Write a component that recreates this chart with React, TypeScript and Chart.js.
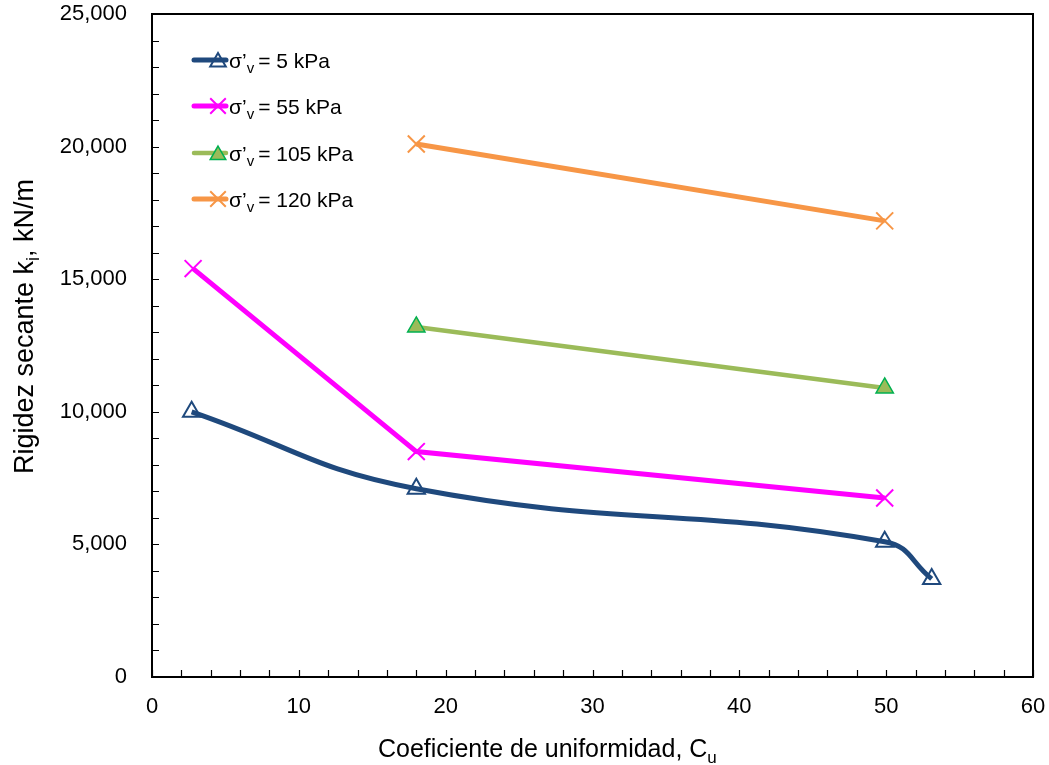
import React, { useEffect, useRef } from "react";
import { Chart, registerables } from "chart.js";

Chart.register(...registerables);

const cu5 = [2.7, 18, 49.9, 53.1];
const k5 = [10000, 7100, 5100, 3700];
const cu55 = [2.8, 18, 49.9];
const k55 = [15400, 8500, 6750];
const cu105 = [18, 49.9];
const k105 = [13200, 10900];
const cu120 = [18, 49.9];
const k120 = [20100, 17200];

const seriesNames = ["5 kPa", "55 kPa", "105 kPa", "120 kPa"];
const xTitle = "Coeficiente de uniformidad, C";
const xTitleSub = "u";
const yTitle = "Rigidez secante k";
const yTitleSub = "i";
const yTitleEnd = ", kN/m";

const FONT = "'Liberation Sans', Arial, sans-serif";

const BLUE = "#1F497D";
const MAGENTA = "#FF00FF";
const GREEN_LINE = "#9BBB59";
const GREEN_EDGE = "#00B050";
const ORANGE = "#F79646";

function pts(xs: number[], ys: number[]) {
  return xs.map((x, i) => ({ x, y: ys[i] }));
}

function drawMarker(ctx: CanvasRenderingContext2D, style: string, x: number, y: number, r: number, fill: string, stroke: string, lw: number) {
  ctx.save();
  ctx.lineWidth = lw;
  ctx.strokeStyle = stroke;
  ctx.fillStyle = fill;
  ctx.beginPath();
  if (style === "triangle") {
    for (let i = 0; i < 3; i++) {
      const a = (i * 2 * Math.PI) / 3;
      const px = x + Math.sin(a) * r;
      const py = y - Math.cos(a) * r;
      if (i === 0) ctx.moveTo(px, py);
      else ctx.lineTo(px, py);
    }
    ctx.closePath();
    ctx.fill();
    ctx.stroke();
  } else {
    const d = r * Math.SQRT1_2;
    ctx.moveTo(x - d, y - d);
    ctx.lineTo(x + d, y + d);
    ctx.moveTo(x + d, y - d);
    ctx.lineTo(x - d, y + d);
    ctx.stroke();
  }
  ctx.restore();
}

const decor = {
  id: "decor",
  afterDraw(chart: any) {
    const ctx: CanvasRenderingContext2D = chart.ctx;
    const { left, right, top, bottom } = chart.chartArea;
    const xs = chart.scales.x;
    const ys = chart.scales.y;
    ctx.save();
    ctx.strokeStyle = "#000";
    ctx.lineWidth = 1.2;
    ctx.beginPath();
    for (let v = 0; v <= 25000; v += 1000) {
      const py = Math.round(ys.getPixelForValue(v)) + 0.5;
      ctx.moveTo(left, py);
      ctx.lineTo(left + 7, py);
    }
    for (let v = 0; v <= 60; v += 2) {
      const px = Math.round(xs.getPixelForValue(v)) + 0.5;
      ctx.moveTo(px, bottom);
      ctx.lineTo(px, bottom - 7);
    }
    ctx.stroke();
    ctx.lineWidth = 2;
    ctx.strokeRect(left, top, right - left, bottom - top);

    ctx.fillStyle = "#000";
    ctx.textBaseline = "alphabetic";
    ctx.textAlign = "left";
    ctx.font = `25px ${FONT}`;
    const x0 = 378;
    ctx.fillText(xTitle, x0, 757);
    const w1 = ctx.measureText(xTitle).width;
    ctx.font = `17px ${FONT}`;
    ctx.fillText(xTitleSub, x0 + w1, 763);

    ctx.save();
    ctx.translate(33, 474);
    ctx.rotate(-Math.PI / 2);
    ctx.font = `27px ${FONT}`;
    ctx.fillText(yTitle, 0, 0);
    let w = ctx.measureText(yTitle).width;
    ctx.font = `18px ${FONT}`;
    ctx.fillText(yTitleSub, w, 6);
    w += ctx.measureText(yTitleSub).width;
    ctx.font = `27px ${FONT}`;
    ctx.fillText(yTitleEnd, w, 0);
    ctx.restore();

    const rows = [60, 106, 153, 199];
    const specs = [
      { color: BLUE, lw: 5, style: "triangle", fill: "rgba(0,0,0,0)", stroke: BLUE, mlw: 2 },
      { color: MAGENTA, lw: 5, style: "cross", fill: MAGENTA, stroke: MAGENTA, mlw: 2 },
      { color: GREEN_LINE, lw: 4.5, style: "triangle", fill: GREEN_LINE, stroke: GREEN_EDGE, mlw: 1.5 },
      { color: ORANGE, lw: 5, style: "cross", fill: ORANGE, stroke: ORANGE, mlw: 2 },
    ];
    rows.forEach((yy, i) => {
      const s = specs[i];
      ctx.save();
      ctx.strokeStyle = s.color;
      ctx.lineWidth = s.lw;
      ctx.lineCap = "round";
      ctx.beginPath();
      ctx.moveTo(194, yy);
      ctx.lineTo(226, yy);
      ctx.stroke();
      ctx.restore();
      drawMarker(ctx, s.style, 218, yy + (s.style === "triangle" ? 2 : 0), s.style === "triangle" ? 9 : 11, s.fill, s.stroke, s.mlw);
      ctx.fillStyle = "#000";
      ctx.font = `21px ${FONT}`;
      let tx = 229;
      ctx.fillText("σ’", tx, yy + 8);
      tx += ctx.measureText("σ’").width;
      ctx.font = `15px ${FONT}`;
      ctx.fillText("v", tx, yy + 13);
      tx += ctx.measureText("v").width + 4;
      ctx.font = `21px ${FONT}`;
      ctx.fillText("= " + seriesNames[i], tx, yy + 8);
    });
    ctx.restore();
  },
};

export default function App() {
  const ref = useRef<HTMLCanvasElement | null>(null);
  useEffect(() => {
    if (!ref.current) return;
    const chart = new Chart(ref.current, {
      type: "scatter",
      data: {
        datasets: [
          {
            data: pts(cu5, k5),
            showLine: true,
            borderColor: BLUE,
            borderWidth: 5,
            tension: 0.45,
            pointStyle: "triangle",
            pointRadius: 10,
            pointBorderWidth: 2,
            pointBorderColor: BLUE,
            pointBackgroundColor: "rgba(0,0,0,0)",
          },
          {
            data: pts(cu55, k55),
            showLine: true,
            borderColor: MAGENTA,
            borderWidth: 5,
            tension: 0,
            pointStyle: "crossRot",
            pointRadius: 12,
            pointBorderWidth: 2,
            pointBorderColor: MAGENTA,
          },
          {
            data: pts(cu105, k105),
            showLine: true,
            borderColor: GREEN_LINE,
            borderWidth: 4.5,
            tension: 0,
            pointStyle: "triangle",
            pointRadius: 10,
            pointBorderWidth: 1.5,
            pointBorderColor: GREEN_EDGE,
            pointBackgroundColor: GREEN_LINE,
          },
          {
            data: pts(cu120, k120),
            showLine: true,
            borderColor: ORANGE,
            borderWidth: 5,
            tension: 0,
            pointStyle: "crossRot",
            pointRadius: 12,
            pointBorderWidth: 2,
            pointBorderColor: ORANGE,
          },
        ],
      },
      options: {
        responsive: false,
        animation: false,
        layout: { padding: { top: 14, right: 16, left: 0, bottom: 0 } },
        plugins: { legend: { display: false }, tooltip: { enabled: false } },
        scales: {
          x: {
            type: "linear",
            min: 0,
            max: 60,
            grid: { display: false },
            border: { display: false },
            ticks: { stepSize: 10, padding: 9, color: "#000", font: { family: FONT, size: 22 }, maxRotation: 0 },
            afterFit: (s: any) => {
              s.height = 88;
              s.paddingLeft = 0;
              s.paddingRight = 0;
            },
          },
          y: {
            type: "linear",
            min: 0,
            max: 25000,
            grid: { display: false },
            border: { display: false },
            ticks: {
              stepSize: 5000,
              padding: 17,
              color: "#000",
              font: { family: FONT, size: 22 },
              callback: (v: any) => Number(v).toLocaleString("en-US"),
            },
            afterFit: (s: any) => {
              s.width = 152;
              s.paddingTop = 0;
              s.paddingBottom = 0;
            },
          },
        },
      },
      plugins: [decor],
    });
    return () => chart.destroy();
  }, []);
  return (
    <div style={{ position: "absolute", left: 0, top: 0, width: 1049, height: 765, background: "#fff" }}>
      <canvas ref={ref} width={1049} height={765} />
    </div>
  );
}
